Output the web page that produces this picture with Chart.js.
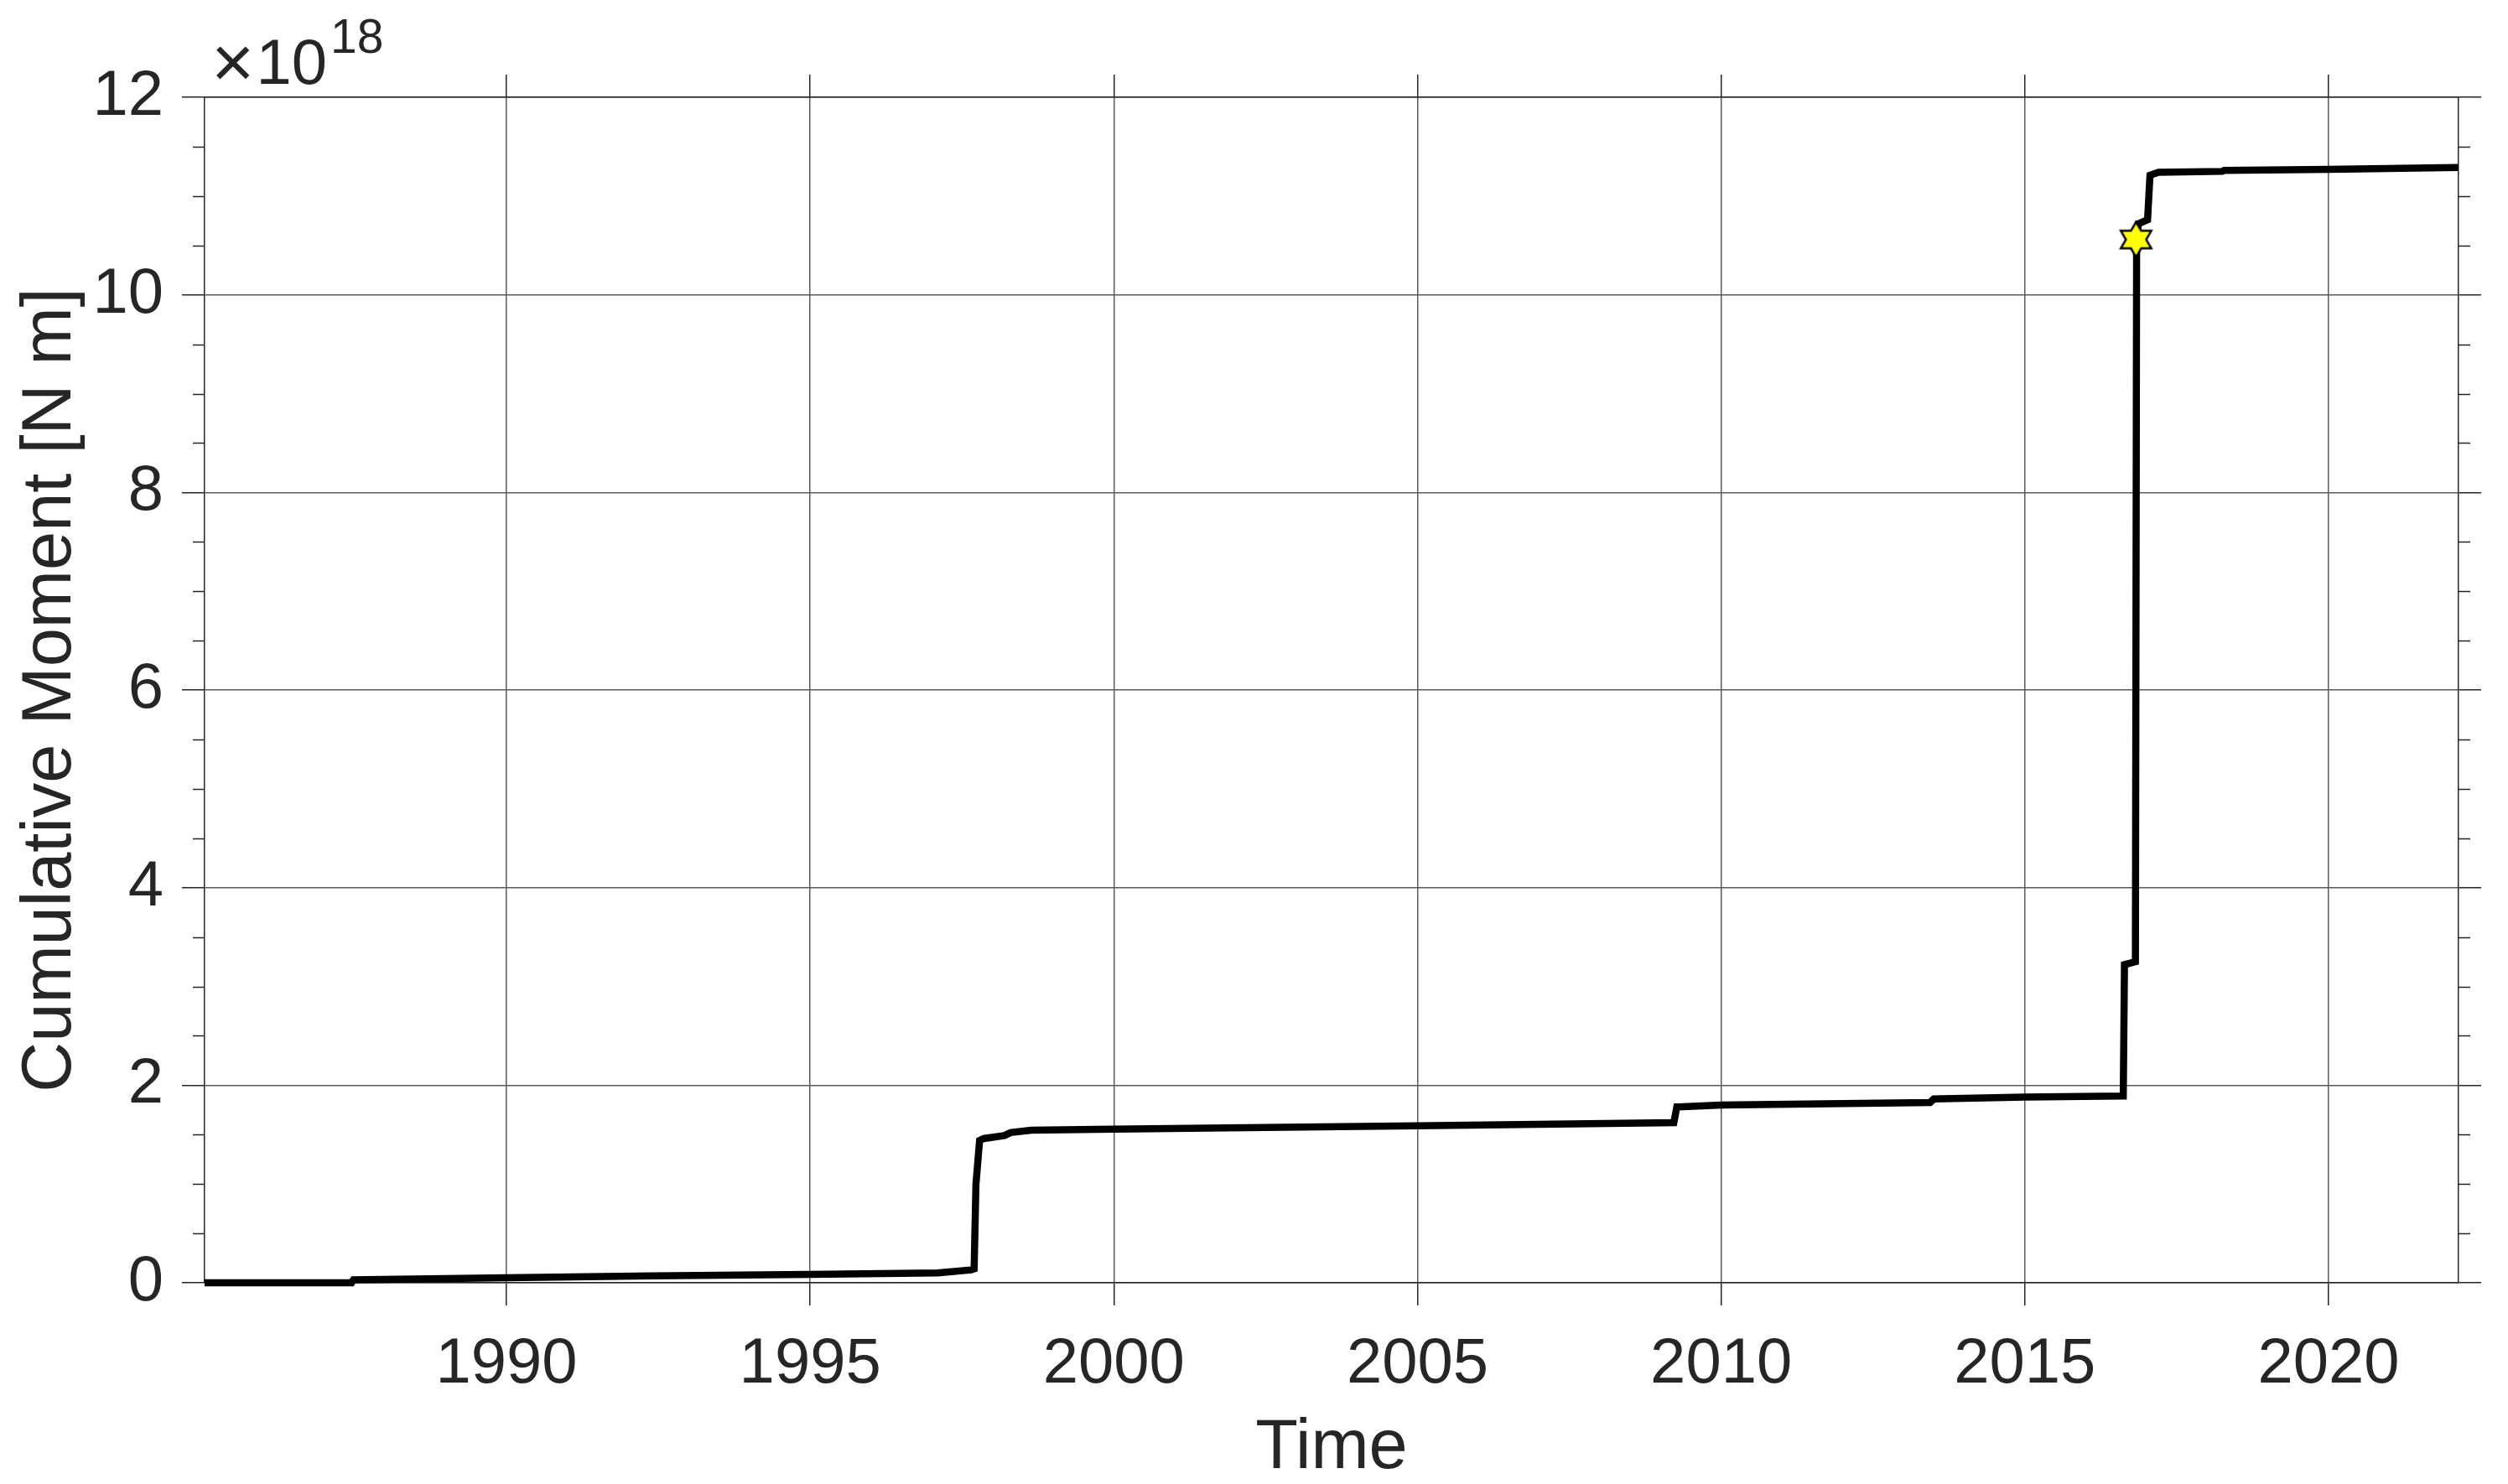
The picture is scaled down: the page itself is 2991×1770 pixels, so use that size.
<!DOCTYPE html>
<html>
<head>
<meta charset="utf-8">
<script src="https://cdn.jsdelivr.net/npm/chart.js@4.4.1/dist/chart.umd.min.js"></script>
<style>
  html, body { margin: 0; padding: 0; background: #fff; }
  #wrap { width: 2991px; height: 1770px; position: relative; }
</style>
</head>
<body>
<div id="wrap"><canvas id="moment-chart"></canvas></div>
<script>
// decimal years and cumulative moment (units of 1e18 N m)
const years = [
  1985.03, 1987.45, 1987.48, 1990.0, 1992.4, 1995.0, 1997.1, 1997.65, 1997.70,
  1997.73, 1997.79, 1997.86, 1998.2, 1998.3, 1998.64, 2000.0, 2005.0, 2009.22,
  2009.27, 2009.30, 2010.0, 2013.44, 2013.50, 2015.0, 2016.58, 2016.62, 2016.64,
  2016.82, 2016.84, 2016.87, 2017.02, 2017.06, 2017.2, 2018.25, 2018.28, 2020.0, 2022.14
];
const moments = [
  0.00, 0.00, 0.03, 0.05, 0.07, 0.085, 0.10, 0.13, 0.14,
  1.00, 1.44, 1.46, 1.49, 1.52, 1.545, 1.555, 1.59, 1.62,
  1.78, 1.78, 1.80, 1.825, 1.86, 1.88, 1.89, 1.89, 3.22,
  3.25, 10.56, 10.72, 10.76, 11.21, 11.24, 11.25, 11.26, 11.27, 11.29
];
// mainshock marker
const starYear = [2016.83];
const starMoment = [10.56];

const xTickYears = [1990, 1995, 2000, 2005, 2010, 2015, 2020];
const yTickValues = [0, 2, 4, 6, 8, 10, 12];
const yMinorStep = 0.5;
const xRange = [1985.03, 2022.14];
const yRange = [0, 12];
const exponentLabel = ['\u00d7', '10', '18'];

const FONT = '"Liberation Sans", Arial, Helvetica, sans-serif';
const TEXT = '#262626';
const AXIS = '#262626';
const GRID = '#5a5a5a';

function hexagram(R) {
  const c = document.createElement('canvas');
  const s = Math.ceil(R * 2 + 6);
  c.width = s; c.height = s;
  const g = c.getContext('2d');
  const r = R / Math.sqrt(3);
  g.beginPath();
  for (let i = 0; i < 12; i++) {
    const a = -Math.PI / 2 + i * Math.PI / 6;
    const rad = i % 2 === 0 ? R : r;
    const px = s / 2 + rad * Math.cos(a), py = s / 2 + rad * Math.sin(a);
    i ? g.lineTo(px, py) : g.moveTo(px, py);
  }
  g.closePath();
  g.fillStyle = '#ffff00';
  g.fill();
  g.lineWidth = 2.5;
  g.strokeStyle = '#000';
  g.stroke();
  return c;
}

// minor ticks on both y sides + the x10^18 multiplier
const frameExtras = {
  id: 'frameExtras',
  afterDraw(chart) {
    const { ctx, chartArea: a, scales: { y } } = chart;
    ctx.save();
    ctx.strokeStyle = AXIS;
    ctx.lineWidth = 1.5;
    ctx.beginPath();
    for (let v = yRange[0]; v <= yRange[1] + 1e-9; v += yMinorStep) {
      if (yTickValues.includes(v)) continue;
      const py = Math.round(y.getPixelForValue(v)) + 0.5;
      ctx.moveTo(a.left - 14, py); ctx.lineTo(a.left, py);
      ctx.moveTo(a.right, py); ctx.lineTo(a.right + 14, py);
    }
    ctx.stroke();

    ctx.fillStyle = TEXT;
    ctx.textBaseline = 'alphabetic';
    ctx.textAlign = 'left';
    let x = a.left + 8;
    ctx.font = `88px ${FONT}`;
    ctx.fillText(exponentLabel[0], x, a.top - 12);
    x += ctx.measureText(exponentLabel[0]).width + 2;
    ctx.font = `76px ${FONT}`;
    ctx.fillText(exponentLabel[1], x, a.top - 16);
    x += ctx.measureText(exponentLabel[1]).width + 4;
    ctx.font = `57px ${FONT}`;
    ctx.fillText(exponentLabel[2], x, a.top - 53);
    ctx.restore();
  }
};

const gridCommon = { color: GRID, lineWidth: 1.5, tickLength: 27, tickColor: AXIS, tickWidth: 1.5 };
const borderCommon = { color: AXIS, width: 1.5 };

new Chart(document.getElementById('moment-chart'), {
  type: 'line',
  data: {
    datasets: [
      {
        type: 'scatter',
        data: starYear.map((x, i) => ({ x, y: starMoment[i] })),
        pointStyle: hexagram(21),
        pointRadius: 21,
        clip: false
      },
      {
        data: years.map((x, i) => ({ x, y: moments[i] })),
        borderColor: '#000',
        borderWidth: 8.5,
        pointRadius: 0,
        tension: 0,
        clip: false,
        borderJoinStyle: 'miter',
        borderCapStyle: 'butt'
      }
    ]
  },
  options: {
    responsive: true,
    maintainAspectRatio: false,
    devicePixelRatio: 1,
    animation: false,
    layout: { padding: 0 },
    plugins: { legend: { display: false }, tooltip: { enabled: false } },
    scales: {
      x: {
        type: 'linear', position: 'bottom', min: xRange[0], max: xRange[1],
        afterBuildTicks: s => { s.ticks = xTickYears.map(v => ({ value: v })); },
        afterFit: s => { s.height = 240; },
        ticks: { color: TEXT, font: { family: FONT, size: 76 }, padding: 25, maxRotation: 0, autoSkip: false, callback: v => String(v) },
        grid: gridCommon,
        border: borderCommon,
        title: { display: true, text: 'Time', color: TEXT, font: { family: FONT, size: 83, lineHeight: 1.0 }, padding: 0 }
      },
      x2: {
        type: 'linear', position: 'top', min: xRange[0], max: xRange[1],
        afterBuildTicks: s => { s.ticks = xTickYears.map(v => ({ value: v })); },
        afterFit: s => { s.height = 116; },
        ticks: { display: false },
        grid: Object.assign({}, gridCommon, { drawOnChartArea: false }),
        border: borderCommon
      },
      y: {
        type: 'linear', position: 'left', min: yRange[0], max: yRange[1],
        afterBuildTicks: s => { s.ticks = yTickValues.map(v => ({ value: v })); },
        afterFit: s => { s.width = 244; },
        ticks: { color: TEXT, font: { family: FONT, size: 76 }, padding: 22, callback: v => String(v) },
        grid: gridCommon,
        border: borderCommon,
        title: { display: true, text: 'Cumulative Moment [N m]', color: TEXT, font: { family: FONT, size: 83 }, padding: 11 }
      },
      y2: {
        type: 'linear', position: 'right', min: yRange[0], max: yRange[1],
        afterBuildTicks: s => { s.ticks = yTickValues.map(v => ({ value: v })); },
        afterFit: s => { s.width = 59; },
        ticks: { display: false },
        grid: Object.assign({}, gridCommon, { drawOnChartArea: false }),
        border: borderCommon
      }
    }
  },
  plugins: [frameExtras]
});
</script>
</body>
</html>
